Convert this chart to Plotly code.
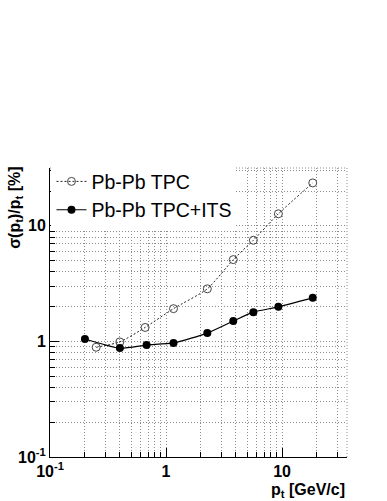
import plotly.graph_objects as go

# transverse momentum (GeV/c) and relative resolution (%)
tpc_pt = [0.25, 0.4, 0.66, 1.16, 2.27, 3.8, 5.66, 9.3, 18.4]
tpc_res = [0.89, 0.99, 1.32, 1.92, 2.85, 5.1, 7.5, 12.7, 23.5]

its_pt = [0.2, 0.4, 0.68, 1.16, 2.27, 3.8, 5.66, 9.3, 18.4]
its_res = [1.05, 0.875, 0.93, 0.97, 1.18, 1.5, 1.79, 1.99, 2.38]

tick_vals = [0.1, 1, 10]
x_tick_text = ["10<sup>-1</sup>", "1", "10"]
y_tick_text = ["10<sup>-1</sup>", "1", "10"]

FONT = "Liberation Sans, Arial, sans-serif"
GRID = "#8c8c8c"
GRID_DASH = "1px,2px"

fig = go.Figure()
fig.add_trace(go.Scatter(
    x=tpc_pt, y=tpc_res, name="Pb-Pb TPC", mode="lines+markers",
    line=dict(color="#222222", width=1, dash="2px,2px", shape="spline", smoothing=0.6),
    marker=dict(symbol="circle-open", size=8, color="#444444", line=dict(width=1)),
))
fig.add_trace(go.Scatter(
    x=its_pt, y=its_res, name="Pb-Pb TPC+ITS", mode="lines+markers",
    line=dict(color="black", width=1.2, shape="spline", smoothing=0.6),
    marker=dict(symbol="circle", size=8, color="black"),
))

axis_common = dict(
    type="log", showgrid=True, gridcolor=GRID, griddash=GRID_DASH, gridwidth=1,
    ticks="inside", ticklen=9, tickcolor="black", showline=True, linecolor="black",
    linewidth=1, zeroline=False, tickvals=tick_vals,
    tickfont=dict(family=FONT, size=16, color="black", weight="bold"),
    minor=dict(dtick="D1", showgrid=True, gridcolor=GRID, griddash=GRID_DASH,
               ticks="inside", ticklen=5, tickcolor="black"),
)

fig.update_xaxes(axis_common, range=[-1, 1.56], ticktext=x_tick_text)
fig.update_yaxes(axis_common, range=[-1, 1.5], ticktext=y_tick_text)

# dotted top and right frame edges
fig.add_shape(type="line", xref="paper", yref="paper", x0=0, x1=1, y0=1, y1=1,
              line=dict(color=GRID, width=1, dash=GRID_DASH))
fig.add_shape(type="line", xref="paper", yref="paper", x0=1, x1=1, y0=0, y1=1,
              line=dict(color=GRID, width=1, dash=GRID_DASH))

fig.add_annotation(text="p<sub>t</sub> [GeV/c]", xref="paper", yref="paper",
                   x=1, y=-0.075, xanchor="right", yanchor="top", showarrow=False,
                   font=dict(family=FONT, size=16, color="black", weight="bold"))
fig.add_annotation(text="σ(p<sub>t</sub>)/p<sub>t</sub> [%]", xref="paper", yref="paper",
                   x=-0.08, y=1.01, xanchor="right", yanchor="top", textangle=-90,
                   showarrow=False,
                   font=dict(family=FONT, size=16, color="black", weight="bold"))

fig.update_layout(
    width=387, height=501,
    margin=dict(l=50, r=40, t=168, b=44),
    paper_bgcolor="white", plot_bgcolor="white",
    font=dict(family=FONT, color="black"),
    showlegend=True,
    legend=dict(x=0.005, y=1.02, xanchor="left", yanchor="top", bgcolor="white",
                font=dict(family=FONT, size=19.5, color="black"),
                borderwidth=0, tracegroupgap=0),
)

# drop the default page margin so the figure sits at the window's corner
fig.write_html("out.html", config={"displayModeBar": False},
               post_script="document.body.style.margin='0';")
